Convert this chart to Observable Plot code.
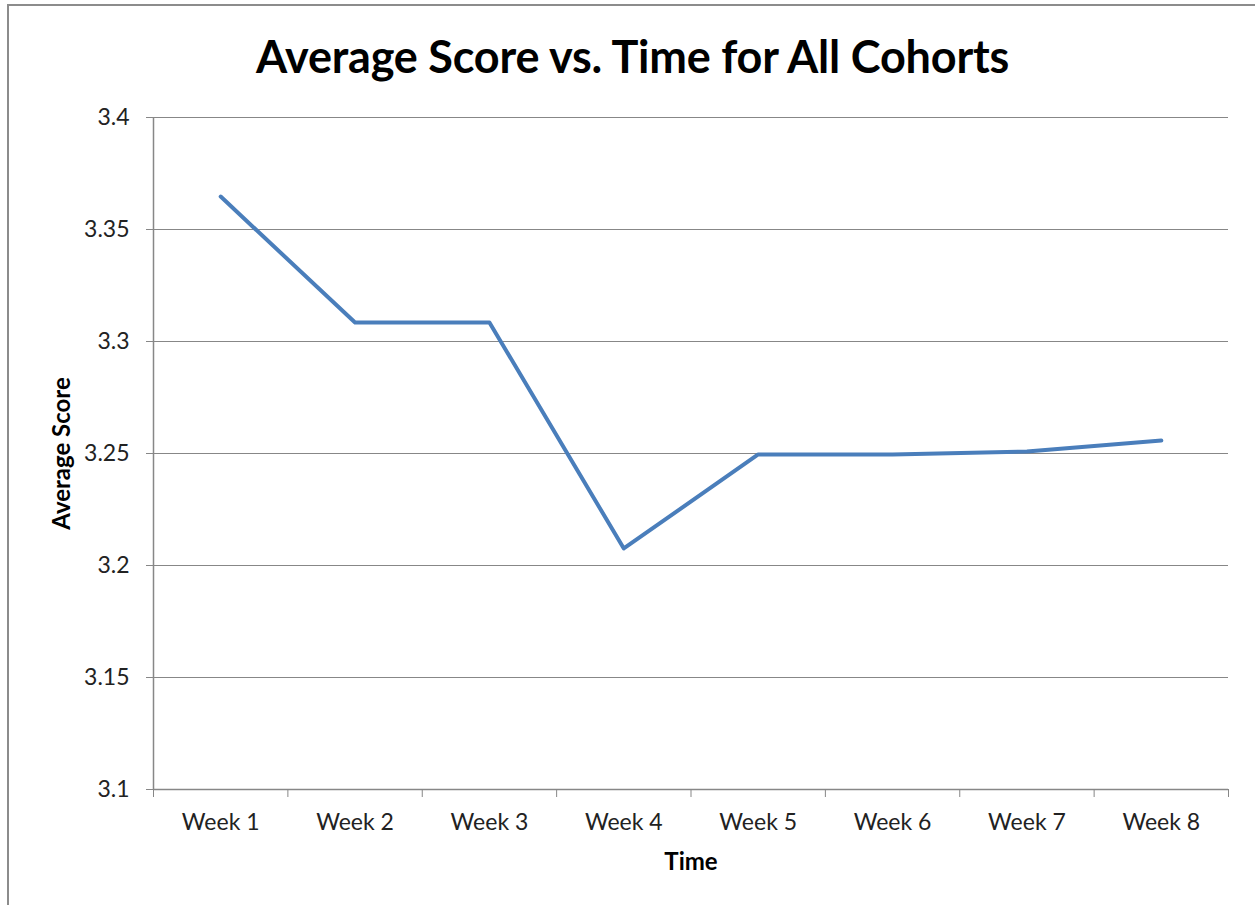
<!DOCTYPE html>
<html>
<head>
<meta charset="utf-8">
<script src="https://cdn.jsdelivr.net/npm/d3@7"></script>
<script src="https://cdn.jsdelivr.net/npm/@observablehq/plot@0.6"></script>
<style>
  html, body { margin: 0; padding: 0; background: #fff; }
  #wrap { position: relative; width: 1255px; height: 905px; overflow: hidden; font-family: Lato, "Open Sans", sans-serif; }
  #frame { position: absolute; left: 7px; top: 4px; width: 1400px; height: 1000px; border: 2px solid #8c8c8c; box-sizing: border-box; }
  #title { position: absolute; left: 0; width: 1265px; top: 29px; text-align: center; font-weight: bold; font-size: 45px; color: #000; letter-spacing: -0.2px; }
  #chart { position: absolute; left: 0; top: 0; }
</style>
</head>
<body>
<div id="wrap">
  <div id="frame"></div>
  <div id="title">Average Score vs. Time for All Cohorts</div>
  <div id="chart"></div>
</div>
<script>
const weeks = ["Week 1", "Week 2", "Week 3", "Week 4", "Week 5", "Week 6", "Week 7", "Week 8"];
const scores = [3.3647, 3.3085, 3.3085, 3.2076, 3.2496, 3.2496, 3.2509, 3.2558];
const yTicks = [3.1, 3.15, 3.2, 3.25, 3.3, 3.35, 3.4];
const xTitle = "Time";
const yTitle = "Average Score";

const data = weeks.map((w, i) => ({idx: i + 1, week: w, score: scores[i]}));
const centers = weeks.map((w, i) => i + 1);
const bounds = d3.range(weeks.length + 1).map(i => i + 0.5);
const gray = "#878787";

const plot = Plot.plot({
  width: 1255,
  height: 905,
  marginLeft: 153,
  marginRight: 27,
  marginTop: 117,
  marginBottom: 116,
  style: { fontFamily: "Lato, 'Open Sans', sans-serif", fontSize: "23px", color: "#222", background: "transparent" },
  x: { type: "linear", domain: [0.5, weeks.length + 0.5] },
  y: { domain: [3.1, 3.4] },
  marks: [
    Plot.gridY(yTicks, { stroke: gray, strokeOpacity: 1, strokeWidth: 1 }),
    Plot.ruleX([0.5], { stroke: gray, strokeWidth: 1.5 }),
    Plot.ruleY([3.1], { stroke: gray, strokeWidth: 1.5 }),
    Plot.axisY(yTicks, { tickSize: 7, tickPadding: 17, stroke: gray, tickFormat: d => String(+d.toFixed(2)), fill: "#222", fontSize: 23, label: null }),
    Plot.axisX(bounds, { tickSize: 8, stroke: gray, tickFormat: () => "", label: null }),
    Plot.axisX(centers, { tickSize: 0, tickPadding: 24, tickFormat: i => weeks[i - 1], fill: "#222", fontSize: 23, label: null }),
    Plot.line(data, { x: "idx", y: "score", stroke: "#4a7ebb", strokeWidth: 4 }),
    Plot.text([xTitle], { frameAnchor: "bottom", dy: 80, fontWeight: "bold", fontSize: 24, fill: "#000" }),
    Plot.text([yTitle], { frameAnchor: "left", textAnchor: "middle", dx: -91, rotate: -90, fontWeight: "bold", fontSize: 24, fill: "#000" })
  ]
});
document.getElementById("chart").appendChild(plot);
</script>
</body>
</html>
